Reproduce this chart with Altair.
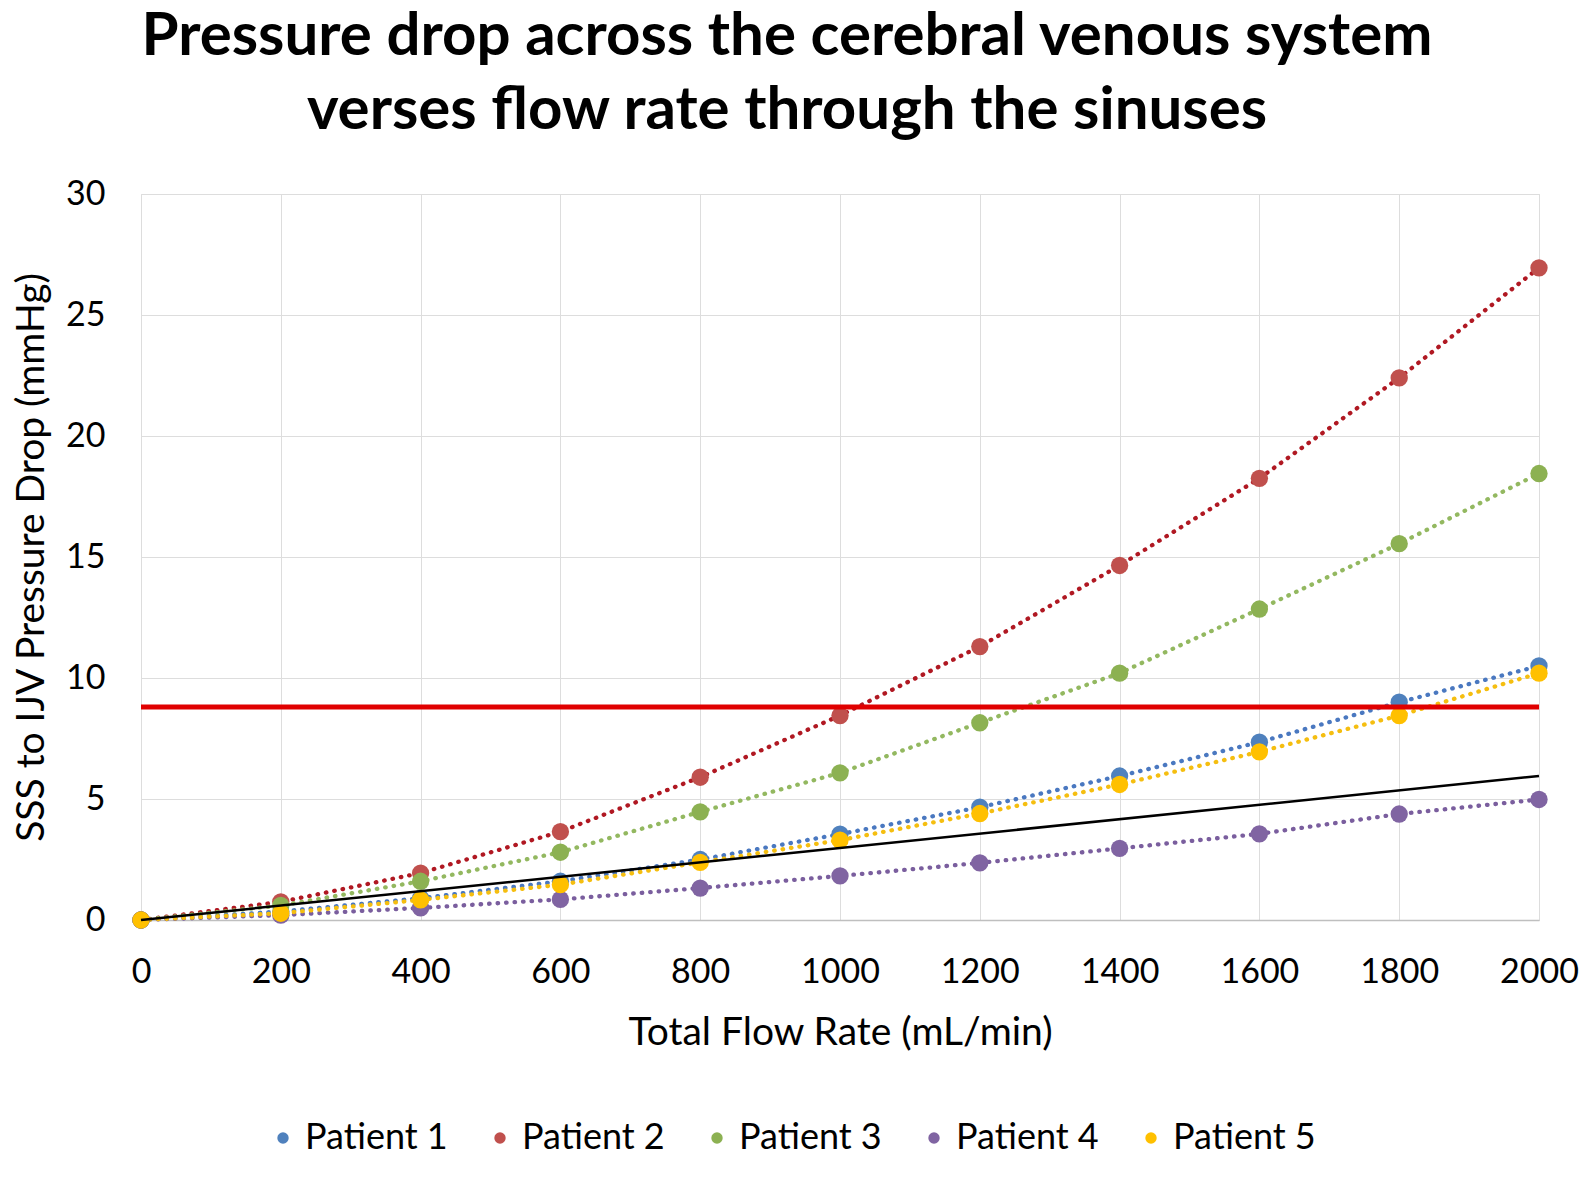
import altair as alt
import pandas as pd

flow = [0, 200, 400, 600, 800, 1000, 1200, 1400, 1600, 1800, 2000]
patients = ["Patient 1", "Patient 2", "Patient 3", "Patient 4", "Patient 5"]
p1 = [0, 0.35, 0.9, 1.6, 2.5, 3.55, 4.66, 5.95, 7.35, 9.0, 10.5]
p2 = [0, 0.75, 1.94, 3.65, 5.9, 8.45, 11.3, 14.65, 18.25, 22.4, 26.95]
p3 = [0, 0.6, 1.6, 2.8, 4.47, 6.08, 8.15, 10.2, 12.85, 15.55, 18.45]
p4 = [0, 0.2, 0.5, 0.85, 1.32, 1.82, 2.36, 2.96, 3.56, 4.38, 4.98]
p5 = [0, 0.28, 0.83, 1.46, 2.38, 3.3, 4.4, 5.6, 6.95, 8.45, 10.2]
threshold_x = [0, 2000]
threshold_y = [8.8, 8.8]
trend_x = [0, 2000]
trend_y = [0, 5.95]

marker_colors = ["#4F81BD", "#C0504D", "#8CB152", "#8064A2", "#FFC000"]
line_colors = ["#4A78C0", "#B01822", "#93B860", "#7A5E9E", "#F5BE10"]

rows = []
for name, vals in zip(patients, [p1, p2, p3, p4, p5]):
    for f, v in zip(flow, vals):
        rows.append({"flow": f, "drop": v, "patient": name, "series": name + " line"})
df = pd.DataFrame(rows)
thr = pd.DataFrame({"flow": threshold_x, "drop": threshold_y})
trend = pd.DataFrame({"flow": trend_x, "drop": trend_y})

FONT = "Lato"

x_enc = alt.X("flow:Q", scale=alt.Scale(domain=[0, 2000], nice=False),
              axis=alt.Axis(values=flow, title="Total Flow Rate (mL/min)",
                            format="d", labelFlush=False,
                            grid=True, ticks=False, labelPadding=35,
                            labelFont=FONT, titleFont=FONT,
                            labelFontSize=34, titleFontSize=39,
                            titleFontWeight="normal", titleY=112,
                            titleBaseline="middle",
                            domainColor="#BFBFBF", domainWidth=1.5))
y_enc = alt.Y("drop:Q", scale=alt.Scale(domain=[0, 30], nice=False),
              axis=alt.Axis(values=[0, 5, 10, 15, 20, 25, 30],
                            title="SSS to IJV Pressure Drop (mmHg)",
                            grid=True, ticks=False, domain=False,
                            labelPadding=36, labelFont=FONT, titleFont=FONT,
                            labelFontSize=34,
                            titleFontSize=39, titleFontWeight="normal",
                            titleX=-110, titleY=363, titleAngle=270,
                            titleAlign="center", titleBaseline="middle"))

series_names = [p + " line" for p in patients]
lines = alt.Chart(df).mark_line(strokeWidth=4.3, strokeDash=[0.5, 8],
                                strokeCap="round").encode(
    x=x_enc, y=y_enc,
    stroke=alt.Stroke("series:N", scale=alt.Scale(domain=series_names, range=line_colors),
                      legend=None),
    detail="series:N",
)

points = alt.Chart(df).mark_point(filled=True, size=300, opacity=1,
                                  shape="circle").encode(
    x="flow:Q", y="drop:Q",
    color=alt.Color("patient:N", scale=alt.Scale(domain=patients, range=marker_colors),
                    legend=alt.Legend(title=None, orient="none", direction="horizontal",
                                      legendX=124, legendY=926,
                                      symbolType="circle", symbolSize=130,
                                      labelFontSize=36, labelFont=FONT,
                                      labelColor="#000000",
                                      columnPadding=34, labelOffset=4)),
)

thr_line = alt.Chart(thr).mark_line(color="#E00000", strokeWidth=5).encode(
    x="flow:Q", y="drop:Q")
trend_line = alt.Chart(trend).mark_line(color="#000000", strokeWidth=2.5).encode(
    x="flow:Q", y="drop:Q")

chart = alt.layer(lines, points, thr_line, trend_line).resolve_scale(
    color="independent"
).properties(
    width=1398, height=726,
    autosize=alt.AutoSizeParams(type="none"),
    padding={"left": 133, "top": 186, "right": 40, "bottom": 250},
    title=alt.TitleParams(
        ["Pressure drop across the cerebral venous system",
         "verses flow rate through the sinuses"],
        fontSize=60, fontWeight="bold", font=FONT, anchor="middle",
        dx=-53, offset=35, lineHeight=74, color="#000000"),
).configure_view(stroke=None).configure_axis(
    gridColor="#D9D9D9", gridWidth=1.3,
    labelColor="#000000", titleColor="#000000",
).configure(background="white")

chart.save("out.html", embed_options={"renderer": "svg", "actions": False})
